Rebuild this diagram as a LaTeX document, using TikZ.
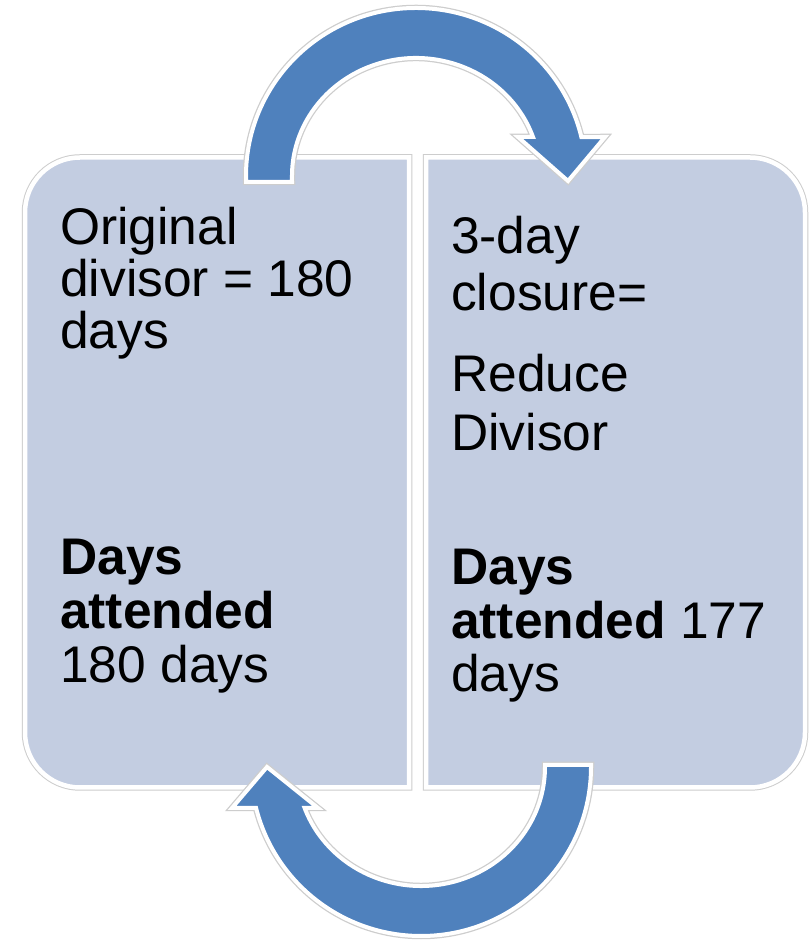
\documentclass[tikz,border=0pt]{standalone}
\usepackage{fontspec}
\setmainfont{Liberation Sans}
\definecolor{boxfill}{RGB}{195,205,225}
\definecolor{arrowblue}{RGB}{79,129,189}
\definecolor{rimgray}{RGB}{205,205,205}
\begin{document}
\begin{tikzpicture}[x=1pt,y=1pt,
  rim/.style={draw=rimgray, line width=6.5pt},
  boxface/.style={fill=boxfill, draw=white, line width=4.5pt},
  arrowface/.style={fill=arrowblue, draw=white, line width=4pt},
  txt/.style={anchor=base west, inner sep=0pt, font=\fontsize{51.5}{54}\selectfont}]
\useasboundingbox (0,0) rectangle (808,941);
\fill[white] (0,0) rectangle (808,941);
% left box
\def\leftbox{(409,783.5) -- (80,783.5) arc[start angle=90,end angle=180,radius=55pt] -- (25,208.5) arc[start angle=180,end angle=270,radius=55pt] -- (409,153.5) -- cycle}
\def\rightbox{(426,783.5) -- (750,783.5) arc[start angle=90,end angle=0,radius=55pt] -- (805,208.5) arc[start angle=0,end angle=-90,radius=55pt] -- (426,153.5) -- cycle}
\path[rim] \leftbox;
\path[rim] \rightbox;
\path[boxface] \leftbox;
\path[boxface] \rightbox;
% top arrow
\def\toparrow{(246,759) -- (246,765) arc[start angle=180,end angle=13.4,x radius=170pt,y radius=168pt] -- (605,804) -- (568,760) -- (518,804) -- (533,804) arc[start angle=19.3,end angle=180,x radius=124pt,y radius=118pt] -- (292,759) -- cycle}
\def\botarrow{(591,176) -- (591,174) arc[start angle=0,end angle=-165.96,x radius=170pt,y radius=169pt] -- (232,133) -- (267,174) -- (318,133) -- (304.6,133) arc[start angle=-159.84,end angle=0,x radius=124pt,y radius=119pt] -- (545,176) -- cycle}
\path[rim] \toparrow;
\path[rim] \botarrow;
\path[arrowface] \toparrow;
\path[arrowface] \botarrow;
% left text
\node[txt] (l1) at (60,696) {Original};
\node[txt] (l2) at (60,644) {divisor = 180};
\node[txt] (l3) at (60,592) {days};
\node[txt] (l4) at (60,366) {\bfseries Days};
\node[txt] (l5) at (60,312) {\bfseries attended};
\node[txt] (l6) at (60,258) {180 days};
% right text
\node[txt] (r1) at (451,687) {3-day};
\node[txt] (r2) at (451,630) {closure=};
\node[txt] (r3) at (451,549) {Reduce};
\node[txt] (r4) at (451,490) {Divisor};
\node[txt] (r5) at (451,356) {\bfseries Days};
\node[txt] (r6) at (451,302) {\textbf{attended} 177};
\node[txt] (r7) at (451,249) {days};
\end{tikzpicture}
\end{document}
